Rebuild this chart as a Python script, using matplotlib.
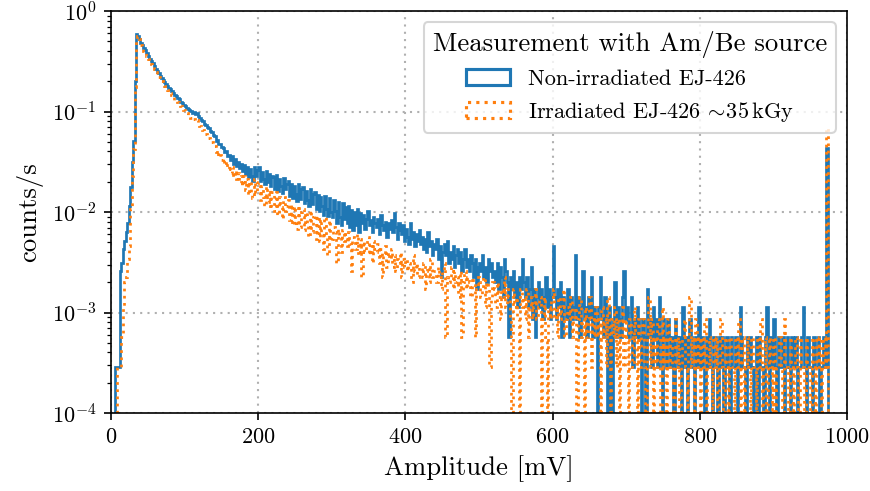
import numpy as np
import matplotlib
matplotlib.use("Agg")
import matplotlib.pyplot as plt

# ---- data: counts per 2 mV amplitude bin (0 ... 974 mV) ----
bin_width_mv = 2
live_time_s = 3510  # counts -> counts/s

counts_non_irradiated = [
    0, 0, 0, 1, 1, 1, 9, 11, 15, 18,
    22, 27, 40, 62, 110, 180, 700, 2050, 1980, 1850,
    1700, 1600, 1490, 1420, 1330, 1250, 1180, 1110, 1060, 990,
    930, 880, 845, 790, 760, 720, 690, 655, 630, 605,
    590, 565, 540, 515, 500, 482, 465, 440, 428, 410,
    395, 380, 372, 360, 352, 340, 348, 328, 338, 315,
    302, 288, 280, 262, 258, 245, 238, 224, 220, 204,
    198, 180, 184, 165, 166, 154, 152, 140, 142, 126,
    130, 116, 126, 106, 118, 100, 110, 96, 106, 90,
    104, 84, 98, 78, 95, 80, 72, 99, 80, 92,
    98, 72, 88, 75, 66, 90, 70, 84, 63, 80,
    78, 60, 82, 57, 74, 63, 54, 76, 60, 66,
    72, 51, 67, 48, 64, 53, 45, 66, 47, 59,
    62, 43, 57, 46, 40, 60, 42, 53, 55, 38,
    52, 36, 49, 40, 33, 51, 38, 32, 48, 35,
    31, 46, 36, 27, 44, 31, 26, 43, 30, 39,
    27, 40, 25, 37, 23, 35, 26, 38, 22, 34,
    27, 33, 24, 30, 36, 26, 29, 22, 31, 27,
    25, 30, 21, 33, 26, 23, 28, 20, 27, 24,
    29, 22, 34, 25, 19, 27, 23, 21, 26, 18,
    24, 20, 17, 27, 19, 22, 16, 21, 18, 23,
    17, 20, 15, 19, 14, 22, 16, 18, 13, 17,
    15, 19, 12, 16, 8, 14, 17, 13, 18, 11,
    14, 12, 16, 10, 13, 15, 11, 14, 9, 12,
    15, 10, 12, 9, 13, 11, 8, 12, 6, 10,
    11, 9, 13, 8, 10, 7, 12, 9, 11, 8,
    9, 7, 11, 6, 10, 8, 5, 12, 9, 7,
    2, 8, 6, 9, 5, 7, 4, 8, 6, 12,
    7, 5, 8, 4, 6, 10, 3, 6, 2, 5,
    7, 4, 6, 3, 5, 8, 4, 6, 3, 5,
    16, 5, 3, 6, 4, 7, 2, 5, 4, 3,
    6, 2, 5, 3, 4, 13, 3, 5, 2, 4,
    9, 3, 4, 2, 5, 3, 8, 2, 4, 3,
    0, 4, 8, 3, 2, 5, 3, 0, 4, 2,
    0, 3, 7, 2, 4, 3, 2, 5, 9, 3,
    4, 2, 3, 5, 1, 3, 2, 4, 3, 2,
    0, 3, 2, 0, 6, 2, 3, 1, 4, 2,
    3, 1, 5, 2, 0, 3, 2, 1, 3, 2,
    1, 2, 0, 3, 2, 1, 2, 0, 4, 1,
    2, 0, 1, 3, 2, 1, 0, 2, 1, 4,
    1, 2, 1, 0, 2, 1, 3, 1, 0, 2,
    2, 1, 0, 2, 1, 2, 0, 1, 2, 1,
    0, 2, 1, 1, 2, 0, 1, 4, 2, 1,
    1, 0, 2, 1, 2, 1, 0, 1, 2, 0,
    2, 1, 1, 0, 2, 4, 1, 0, 2, 1,
    3, 1, 0, 2, 1, 1, 2, 0, 1, 2,
    1, 0, 2, 1, 1, 2, 0, 1, 1, 2,
    4, 1, 0, 2, 1, 1, 0, 2, 1, 1,
    2, 0, 1, 1, 2, 1, 152,
]

counts_irradiated = [
    0, 0, 0, 0, 1, 1, 1, 2, 4, 7,
    8, 12, 16, 38, 80, 150, 620, 1750, 1960, 1850,
    1610, 1510, 1410, 1340, 1250, 1170, 1110, 1040, 990, 930,
    860, 810, 780, 725, 700, 660, 632, 600, 578, 553,
    532, 507, 485, 462, 448, 432, 416, 394, 383, 366,
    345, 336, 322, 318, 302, 292, 298, 282, 290, 272,
    250, 236, 228, 212, 210, 195, 190, 176, 176, 160,
    158, 138, 145, 124, 130, 115, 120, 104, 112, 95,
    104, 86, 98, 78, 92, 74, 86, 68, 80, 64,
    80, 58, 75, 52, 72, 56, 48, 74, 54, 68,
    70, 46, 63, 50, 40, 64, 44, 58, 38, 55,
    53, 36, 55, 33, 49, 39, 30, 50, 36, 40,
    46, 29, 42, 26, 40, 30, 24, 41, 25, 35,
    38, 23, 35, 26, 20, 37, 22, 31, 33, 19,
    32, 18, 30, 21, 15, 31, 20, 13, 29, 18,
    19, 25, 22, 11, 24, 20, 14, 23, 18, 21,
    16, 22, 17, 9, 20, 18, 15, 21, 13, 19,
    8, 18, 14, 17, 20, 13, 16, 11, 18, 15,
    14, 17, 11, 15, 8, 13, 16, 10, 14, 12,
    15, 10, 13, 9, 12, 11, 14, 8, 12, 10,
    12, 9, 11, 10, 7, 13, 9, 11, 8, 10,
    10, 8, 11, 6, 9, 10, 7, 12, 8, 9,
    9, 7, 10, 8, 6, 9, 11, 2, 8, 7,
    8, 10, 6, 9, 7, 8, 5, 9, 2, 7,
    9, 6, 8, 7, 5, 8, 7, 2, 6, 8,
    7, 5, 6, 8, 4, 7, 6, 1, 5, 7,
    6, 4, 7, 5, 3, 6, 5, 8, 4, 6,
    5, 3, 0, 6, 4, 5, 3, 0, 6, 4,
    5, 3, 6, 2, 4, 5, 3, 4, 6, 3,
    4, 5, 0, 3, 5, 2, 0, 4, 3, 5,
    6, 3, 4, 2, 5, 3, 4, 6, 2, 3,
    4, 3, 5, 2, 3, 4, 0, 3, 5, 2,
    3, 0, 4, 2, 3, 5, 1, 3, 2, 4,
    2, 3, 0, 4, 2, 3, 1, 5, 2, 0,
    3, 2, 4, 1, 3, 0, 2, 4, 1, 3,
    2, 0, 3, 2, 1, 4, 2, 0, 3, 1,
    2, 3, 1, 0, 2, 5, 1, 3, 0, 2,
    1, 3, 2, 0, 4, 1, 2, 0, 3, 1,
    2, 1, 0, 3, 1, 2, 0, 1, 2, 3,
    1, 0, 2, 5, 1, 2, 0, 3, 1, 2,
    0, 2, 1, 3, 0, 1, 2, 1, 0, 2,
    1, 2, 0, 1, 3, 1, 0, 2, 1, 0,
    2, 1, 1, 0, 2, 1, 3, 0, 1, 2,
    0, 1, 2, 1, 0, 2, 1, 1, 0, 2,
    1, 3, 0, 1, 2, 0, 1, 2, 1, 0,
    2, 0, 1, 1, 2, 1, 0, 3, 1, 1,
    0, 2, 1, 0, 1, 2, 1, 0, 2, 1,
    1, 0, 2, 1, 1, 0, 2, 1, 0, 2,
    1, 2, 0, 1, 2, 1, 240,
]

label_non_irr = "Non-irradiated EJ-426"
label_irr = r"Irradiated EJ-426 $\!\sim\!$35$\,$kGy"
legend_title = "Measurement with Am/Be source"
x_ticks = [0, 200, 400, 600, 800, 1000]

# ---- style ----
plt.rcParams.update({
    "font.family": "serif",
    "font.serif": ["cmr10", "DejaVu Serif"],
    "mathtext.fontset": "cm",
    "axes.formatter.use_mathtext": True,
    "axes.unicode_minus": False,
})

W, H, DPI = 870, 491, 150
fig = plt.figure(figsize=(W / DPI, H / DPI), dpi=DPI)
ax = fig.add_axes([111 / W, 1 - 413 / H, (847 - 111) / W, (413 - 11) / H])

edges = np.arange(len(counts_non_irradiated) + 1) * bin_width_mv
rate_non = np.array(counts_non_irradiated) / live_time_s
rate_irr = np.array(counts_irradiated) / live_time_s

ax.hist(edges[:-1], bins=edges, weights=rate_non, histtype="step",
        color="#1f77b4", linewidth=1.3, label=label_non_irr)
ax.hist(edges[:-1], bins=edges, weights=rate_irr, histtype="step",
        color="#ff7f0e", linewidth=1.3, linestyle=":", label=label_irr)

ax.set_yscale("log")
ax.set_xlim(0, 1000)
ax.set_ylim(1e-4, 1)
ax.set_xticks(x_ticks)
ax.tick_params(labelsize=10.7)
ax.grid(True, which="major", linestyle=(0, (1, 2.5)), color="#b0b0b0", linewidth=1.0)
ax.set_axisbelow(True)

ax.set_xlabel("Amplitude [mV]", fontsize=12.8)
ax.set_ylabel("counts/s", fontsize=12.8)

leg = ax.legend(loc="upper right", title=legend_title, fontsize=10.7, title_fontsize=12.8)
for h in leg.legend_handles:
    h.set_linewidth(1.5)

fig.savefig("out.png", dpi=DPI)
